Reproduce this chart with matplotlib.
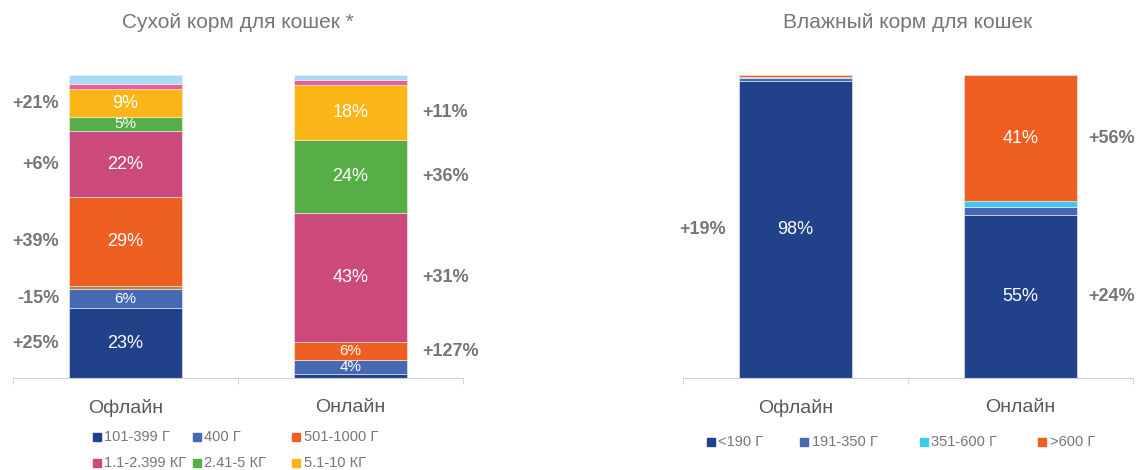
import matplotlib
matplotlib.use('Agg')
import matplotlib.pyplot as plt
from matplotlib.patches import Rectangle

plt.rcParams['font.family'] = ['Liberation Sans', 'DejaVu Sans']

# --- dry food (left chart) ---
cats = ['Офлайн', 'Онлайн']
dry_series = ['101-399 Г', '400 Г', '401-500 Г', '501-1000 Г', '1.1-2.399 КГ',
              '2.41-5 КГ', '5.1-10 КГ', '10+ КГ', 'прочее']
dry_offline = [23.0, 6.4, 0.9, 29.3, 21.9, 4.5, 9.25, 1.75, 3.0]
dry_online = [1.2, 4.6, 0.1, 5.9, 42.8, 24.0, 18.2, 1.55, 1.65]
dry_lbl_off = ['23%', '6%', '', '29%', '22%', '5%', '9%', '', '']
dry_lbl_on = ['', '4%', '', '6%', '43%', '24%', '18%', '', '']
dry_gr_off = ['+25%', '-15%', '', '+39%', '+6%', '', '+21%', '', '']
dry_gr_on = ['', '', '', '+127%', '+31%', '+36%', '+11%', '', '']
dry_legend = ['101-399 Г', '400 Г', '501-1000 Г', '1.1-2.399 КГ', '2.41-5 КГ', '5.1-10 КГ']

# --- wet food (right chart) ---
wet_series = ['<190 Г', '191-350 Г', '351-600 Г', '>600 Г']
wet_offline = [98.1, 0.8, 0.55, 0.55]
wet_online = [53.8, 2.8, 1.7, 41.7]
wet_lbl_off = ['98%', '', '', '']
wet_lbl_on = ['55%', '', '', '41%']
wet_gr_off = ['+19%', '', '', '']
wet_gr_on = ['+24%', '', '', '+56%']

colors = {
    '101-399 Г': '#21428a', '400 Г': '#4569b3', '401-500 Г': '#c0843c',
    '501-1000 Г': '#ef5f22', '1.1-2.399 КГ': '#cb4a7b', '2.41-5 КГ': '#57ae47',
    '5.1-10 КГ': '#fbb516', '10+ КГ': '#ef5b93', 'прочее': '#a8dcf6',
    '<190 Г': '#21428a', '191-350 Г': '#4569b3', '351-600 Г': '#3ec8f0',
    '>600 Г': '#ef5f22',
}
small = {'5%', '6%', '4%'}
GRAY = '#767676'
W = 0.5


def draw_stack(ax, series, off, on, lbl_off, lbl_on, gr_off, gr_on, gaps):
    for xi, vals, lbls, grs, side in [(0, off, lbl_off, gr_off, -1), (1, on, lbl_on, gr_on, 1)]:
        bottom = 0
        for s, v, l, g in zip(series, vals, lbls, grs):
            ax.bar(xi, v, W, bottom=bottom, color=colors[s], edgecolor='#f2f2f2', linewidth=0.4)
            mid = bottom + v / 2
            if l:
                ax.text(xi, mid, l, ha='center', va='center', color='white',
                        fontsize=11 if l in small else 13)
            if g:
                gx = xi + side * (W / 2 + gaps[xi])
                ax.text(gx, mid, g, ha='left' if side > 0 else 'right', va='center',
                        color=GRAY, fontsize=13, fontweight='bold')
            bottom += v
    ax.set_xlim(-0.5, 1.5)
    ax.set_ylim(0, 100)
    for sp in ['top', 'right', 'left']:
        ax.spines[sp].set_visible(False)
    ax.spines['bottom'].set_color('#d0d0d0')
    ax.set_yticks([])
    ax.set_xticks([0, 1])
    ax.set_xticklabels(cats, fontsize=14, color='#595959')
    ax.tick_params(axis='x', which='major', length=0, pad=15)
    ax.set_xticks([-0.5, 0.5, 1.5], minor=True)
    ax.tick_params(axis='x', which='minor', length=4.5, color='#d0d0d0')


def legend(fig, labels, xs, ys):
    for lab, x, y in zip(labels, xs, ys):
        fx, fy = x / 1137, 1 - y / 470
        fig.patches.append(Rectangle((fx, fy - 4 / 470), 8 / 1137, 8 / 470,
                                     transform=fig.transFigure, color=colors[lab]))
        fig.text(fx + 11.5 / 1137, fy, lab, ha='left', va='center', fontsize=10.5, color=GRAY)


fig = plt.figure(figsize=(11.37, 4.70), dpi=100)
ax1 = fig.add_axes([13 / 1137, 92 / 470, 450 / 1137, 303 / 470])
ax2 = fig.add_axes([683 / 1137, 92 / 470, 450 / 1137, 303 / 470])

draw_stack(ax1, dry_series, dry_offline, dry_online, dry_lbl_off, dry_lbl_on,
           dry_gr_off, dry_gr_on, [0.045, 0.068])
draw_stack(ax2, wet_series, wet_offline, wet_online, wet_lbl_off, wet_lbl_on,
           wet_gr_off, wet_gr_on, [0.058, 0.05])

fig.text(238 / 1137, 1 - 22 / 470, 'Сухой корм для кошек *', ha='center', va='center',
         fontsize=15, color=GRAY)
fig.text(908 / 1137, 1 - 22 / 470, 'Влажный корм для кошек', ha='center', va='center',
         fontsize=15, color=GRAY)

legend(fig, dry_legend, [93, 193, 292, 93, 193, 292], [437, 437, 437, 463, 463, 463])
legend(fig, wet_series, [707, 800, 920, 1038], [442] * 4)

fig.savefig('out.png', dpi=100)
